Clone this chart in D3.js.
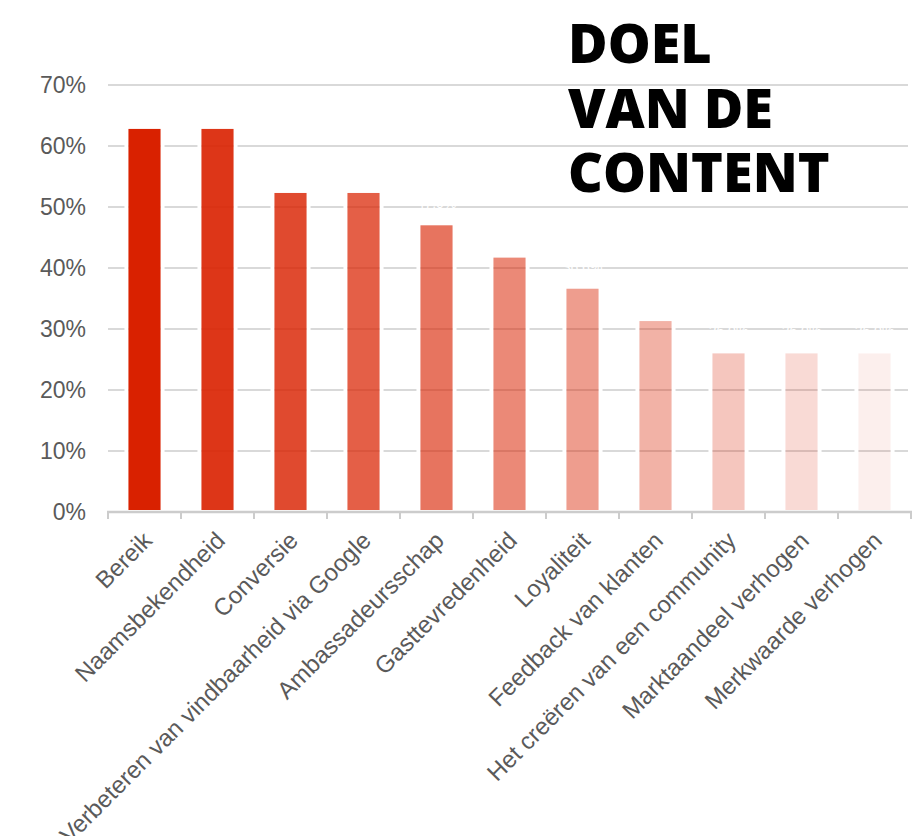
<!DOCTYPE html>
<html>
<head>
<meta charset="utf-8">
<script src="https://cdn.jsdelivr.net/npm/d3@7/dist/d3.min.js"></script>
<style>
  html, body { margin: 0; padding: 0; background: #fff; }
  svg { display: block; }
</style>
</head>
<body>
<svg id="chart" width="920" height="836"></svg>
<script>
// ---- data ----
const categories = [
  "Bereik",
  "Naamsbekendheid",
  "Conversie",
  "Verbeteren van vindbaarheid via Google",
  "Ambassadeursschap",
  "Gasttevredenheid",
  "Loyaliteit",
  "Feedback van klanten",
  "Het creëren van een community",
  "Marktaandeel verhogen",
  "Merkwaarde verhogen"
];
const values = [62.8, 62.8, 52.3, 52.3, 47.0, 41.7, 36.6, 31.3, 26.0, 26.0, 26.0];
const yTicks = [0, 10, 20, 30, 40, 50, 60, 70];
const titleLines = ["DOEL", "VAN DE", "CONTENT"];

(function () {
// ---- layout ----
const svg = d3.select("#chart");
const plotLeft = 108, plotRight = 911, plotTop = 85, plotBottom = 512;

const x = d3.scaleBand()
  .domain(categories)
  .range([plotLeft, plotRight])
  .paddingInner(0.56)
  .paddingOuter(0.28);

const y = d3.scaleLinear().domain([0, 70]).range([plotBottom, plotTop]);

const baseColor = "#d92100";
const opacity = i => 1 - i * 0.093;

// gridlines
svg.append("g")
  .selectAll("line")
  .data(yTicks.filter(t => t > 0))
  .join("line")
  .attr("x1", plotLeft).attr("x2", plotRight - 3)
  .attr("y1", d => y(d)).attr("y2", d => y(d))
  .attr("stroke", "#d9d9d9")
  .attr("stroke-width", 2);

// y tick labels
svg.append("g")
  .selectAll("text")
  .data(yTicks)
  .join("text")
  .attr("x", 86)
  .attr("y", d => y(d))
  .attr("dy", "0.36em")
  .attr("text-anchor", "end")
  .attr("font-family", "Liberation Sans, Arial, sans-serif")
  .attr("font-size", 23)
  .attr("fill", "#5a5a5a")
  .text(d => d + "%");

// white gaps around bars
const data = categories.map((c, i) => ({ c, v: values[i], i }));
const gaps = svg.append("g");
data.forEach(d => {
  [-4, x.bandwidth()].forEach(off => {
    gaps.append("rect")
      .attr("x", x(d.c) + off)
      .attr("y", y(d.v))
      .attr("width", 4)
      .attr("height", plotBottom - 2 - y(d.v))
      .attr("fill", "#fff");
  });
});

// bars
svg.append("g")
  .selectAll("rect")
  .data(data)
  .join("rect")
  .attr("x", d => x(d.c))
  .attr("y", d => y(d.v))
  .attr("width", x.bandwidth())
  .attr("height", d => plotBottom - 2 - y(d.v))
  .attr("fill", baseColor)
  .attr("fill-opacity", d => opacity(d.i));

// white value labels (as in original)
svg.append("g")
  .selectAll("text")
  .data(data)
  .join("text")
  .attr("x", d => x(d.c) + x.bandwidth() / 2)
  .attr("y", d => y(d.v) - 17)
  .attr("text-anchor", "middle")
  .attr("font-family", "Liberation Sans, Arial, sans-serif")
  .attr("font-size", 14)
  .attr("fill", "#fff")
  .text(d => d3.format(".1f")(d.v).replace(".", ",") + "%");

// x axis
const xAxis = d3.axisBottom(x).tickSize(0).tickPadding(0);
const gx = svg.append("g").attr("transform", `translate(0,${plotBottom})`).call(xAxis);
gx.select(".domain").remove();
gx.selectAll(".tick text").remove();

svg.append("line")
  .attr("x1", plotLeft - 1).attr("x2", plotRight + 1)
  .attr("y1", plotBottom).attr("y2", plotBottom)
  .attr("stroke", "#cccccc").attr("stroke-width", 2.5);

// tick marks at band boundaries
const boundaries = categories.map(c => x(c) - (x.step() - x.bandwidth()) / 2).concat([plotRight]);
svg.append("g")
  .selectAll("line")
  .data(boundaries)
  .join("line")
  .attr("x1", d => d).attr("x2", d => d)
  .attr("y1", plotBottom).attr("y2", plotBottom + 7)
  .attr("stroke", "#cccccc").attr("stroke-width", 2);

// rotated category labels
svg.append("g")
  .selectAll("text")
  .data(categories)
  .join("text")
  .attr("transform", c => `translate(${x(c) + x.bandwidth() / 2 + 9},${plotBottom + 30}) rotate(-45)`)
  .attr("text-anchor", "end")
  .attr("font-family", "Liberation Sans, Arial, sans-serif")
  .attr("font-size", 24)
  .attr("fill", "#5a5a5a")
  .text(c => c);

// title
svg.append("g")
  .selectAll("text")
  .data(titleLines)
  .join("text")
  .attr("x", 568)
  .attr("y", (d, i) => 63 + i * 64.5)
  .attr("font-family", "Open Sans, sans-serif")
  .attr("font-weight", 800)
  .attr("font-size", 54)
  .attr("fill", "#000")
  .text(d => d);
})();
</script>
</body>
</html>
